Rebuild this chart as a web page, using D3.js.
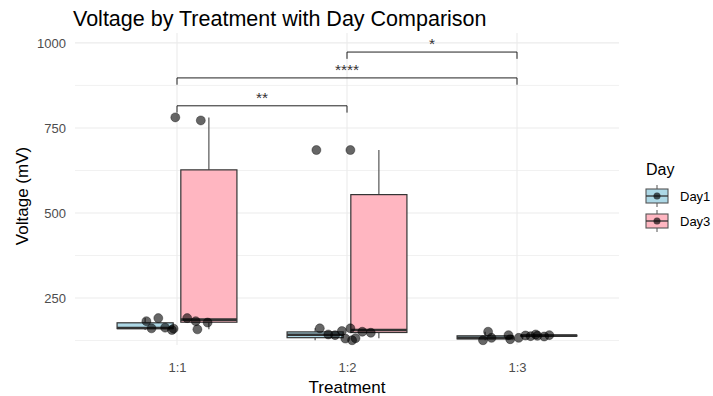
<!DOCTYPE html>
<html>
<head>
<meta charset="utf-8" />
<title>Voltage by Treatment</title>
<script src="https://cdn.jsdelivr.net/npm/d3@7/dist/d3.min.js"></script>
<style>
  body { margin: 0; background: #fff; }
  text { font-family: "Liberation Sans", Arial, sans-serif; }
</style>
</head>
<body>
<script>
// data
var treatments = ["1:1", "1:2", "1:3"];
var days = ["Day1", "Day3"];
var dayFill = ["#add8e6", "#ffb6c1"];

// voltage readings per treatment, per day
var day1Values = [
  [191, 182, 161, 156, 160, 163],
  [161, 143, 141, 153, 131, 126],
  [151, 126, 133, 141, 129, 133]
];
var day3Values = [
  [781, 772, 191, 182, 178, 158],
  [685, 685, 161, 151, 148, 132],
  [140, 138, 143, 139, 141, 137]
];
// jitter offsets (in category units) as seen in the picture
var day1Jitter = [
  [-0.11, -0.18, -0.15, -0.03, -0.02, -0.07],
  [-0.16, -0.11, -0.07, -0.03, -0.01, 0.03],
  [-0.17, -0.20, -0.15, -0.05, -0.04, 0.01]
];
var day3Jitter = [
  [-0.01, 0.14, 0.06, 0.11, 0.18, 0.12],
  [0.02, -0.18, 0.02, 0.09, 0.14, 0.05],
  [0.05, 0.08, 0.11, 0.12, 0.19, 0.16]
];

var yTicks = [250, 500, 750, 1000];
var yMinor = [125, 375, 625, 875];

var comparisons = [
  { from: "1:1", to: "1:2", y: 815, label: "**" },
  { from: "1:1", to: "1:3", y: 897, label: "****" },
  { from: "1:2", to: "1:3", y: 973, label: "*" }
];

var width = 713, height = 396;

var svg = d3.select("body").append("svg")
  .attr("width", width)
  .attr("height", height);

var x = d3.scalePoint().domain(treatments).range([177, 517]);
var step = x.step();
var y = d3.scaleLinear().domain([112, 1029]).range([345, 33]);

var panelLeft = x(treatments[0]) - 0.6 * step;
var panelRight = x(treatments[treatments.length - 1]) + 0.6 * step;

// grid
svg.append("g").selectAll("line").data(yMinor).enter().append("line")
  .attr("x1", panelLeft).attr("x2", panelRight)
  .attr("y1", function (d) { return y(d); }).attr("y2", function (d) { return y(d); })
  .attr("stroke", "#f1f1f1").attr("stroke-width", 1);
svg.append("g").selectAll("line").data(yTicks).enter().append("line")
  .attr("x1", panelLeft).attr("x2", panelRight)
  .attr("y1", function (d) { return y(d); }).attr("y2", function (d) { return y(d); })
  .attr("stroke", "#ebebeb").attr("stroke-width", 1.1);
svg.append("g").selectAll("line").data(treatments).enter().append("line")
  .attr("x1", function (d) { return x(d); }).attr("x2", function (d) { return x(d); })
  .attr("y1", y.range()[1]).attr("y2", y.range()[0])
  .attr("stroke", "#ebebeb").attr("stroke-width", 1.1);

// axes (labels only, theme_minimal style)
var yAxis = svg.append("g")
  .attr("transform", "translate(" + (panelLeft - 2) + ",0)")
  .call(d3.axisLeft(y).tickValues(yTicks).tickFormat(d3.format("d")).tickSize(0).tickPadding(7));
yAxis.select(".domain").remove();
yAxis.selectAll("text").attr("fill", "#4d4d4d").style("font-size", "13px")
  .style("font-family", "Liberation Sans, Arial, sans-serif");

var xAxis = svg.append("g")
  .attr("transform", "translate(0," + (y.range()[0] + 6) + ")")
  .call(d3.axisBottom(x).tickSize(0).tickPadding(12));
xAxis.select(".domain").remove();
xAxis.selectAll("text").attr("fill", "#4d4d4d").style("font-size", "13px")
  .style("font-family", "Liberation Sans, Arial, sans-serif");

// boxplot stats (type 7 quantiles, 1.5 IQR whiskers)
function stats(vals) {
  var s = vals.slice().sort(d3.ascending);
  var q1 = d3.quantileSorted(s, 0.25), med = d3.quantileSorted(s, 0.5), q3 = d3.quantileSorted(s, 0.75);
  var iqr = q3 - q1;
  var lo = d3.min(s.filter(function (v) { return v >= q1 - 1.5 * iqr; }));
  var hi = d3.max(s.filter(function (v) { return v <= q3 + 1.5 * iqr; }));
  return { q1: q1, med: med, q3: q3, lo: lo, hi: hi };
}

var boxes = [];
treatments.forEach(function (t, i) {
  boxes.push({ t: t, day: 0, s: stats(day1Values[i]) });
  boxes.push({ t: t, day: 1, s: stats(day3Values[i]) });
});

var dodge = 0.1875 * step;
var boxW = 0.33 * step;
function cx(d) { return x(d.t) + (d.day ? dodge : -dodge); }

var bx = svg.append("g").selectAll("g").data(boxes).enter().append("g");
bx.append("line")
  .attr("x1", cx).attr("x2", cx)
  .attr("y1", function (d) { return y(d.s.q3); })
  .attr("y2", function (d) { return y(d.s.hi); })
  .attr("stroke", "#555").attr("stroke-width", 1.2);
bx.append("line")
  .attr("x1", cx).attr("x2", cx)
  .attr("y1", function (d) { return y(d.s.q1); })
  .attr("y2", function (d) { return y(d.s.lo); })
  .attr("stroke", "#555").attr("stroke-width", 1.2);
bx.append("rect")
  .attr("x", function (d) { return cx(d) - boxW / 2; })
  .attr("width", boxW)
  .attr("y", function (d) { return y(d.s.q3); })
  .attr("height", function (d) { return Math.max(0.5, y(d.s.q1) - y(d.s.q3)); })
  .attr("fill", function (d) { return dayFill[d.day]; })
  .attr("stroke", "#333").attr("stroke-width", 1.2);
bx.append("line")
  .attr("x1", function (d) { return cx(d) - boxW / 2; })
  .attr("x2", function (d) { return cx(d) + boxW / 2; })
  .attr("y1", function (d) { return y(d.s.med); })
  .attr("y2", function (d) { return y(d.s.med); })
  .attr("stroke", "#333").attr("stroke-width", 2.6);

// jittered points
var pts = [];
treatments.forEach(function (t, i) {
  day1Values[i].forEach(function (v, j) { pts.push({ t: t, v: v, jx: day1Jitter[i][j] }); });
  day3Values[i].forEach(function (v, j) { pts.push({ t: t, v: v, jx: day3Jitter[i][j] }); });
});
svg.append("g").selectAll("circle").data(pts).enter().append("circle")
  .attr("cx", function (d) { return x(d.t) + d.jx * step; })
  .attr("cy", function (d) { return y(d.v); })
  .attr("r", 4.5)
  .attr("fill", "#000").attr("fill-opacity", 0.6)
  .attr("stroke", "#000").attr("stroke-opacity", 0.6).attr("stroke-width", 0.6);

// significance brackets
var tip = 20;
var br = svg.append("g").selectAll("g").data(comparisons).enter().append("g");
br.append("path")
  .attr("d", function (d) {
    return "M" + x(d.from) + "," + y(d.y - tip) + "V" + y(d.y) + "H" + x(d.to) + "V" + y(d.y - tip);
  })
  .attr("fill", "none").attr("stroke", "#222").attr("stroke-width", 1);
br.append("text")
  .attr("x", function (d) { return (x(d.from) + x(d.to)) / 2; })
  .attr("y", function (d) { return y(d.y) - 3; })
  .attr("text-anchor", "middle")
  .style("font-size", "15.5px")
  .attr("fill", "#333")
  .text(function (d) { return d.label; });

// titles
svg.append("text").attr("x", 73).attr("y", 26)
  .style("font-size", "21.5px").attr("fill", "#000")
  .text("Voltage by Treatment with Day Comparison");
svg.append("text").attr("x", (panelLeft + panelRight) / 2).attr("y", 393)
  .attr("text-anchor", "middle").style("font-size", "17px").attr("fill", "#000")
  .text("Treatment");
svg.append("text")
  .attr("transform", "translate(28," + ((y.range()[0] + y.range()[1]) / 2 + 7) + ") rotate(-90)")
  .attr("text-anchor", "middle").style("font-size", "17px").attr("fill", "#000")
  .text("Voltage (mV)");

// legend
var legend = svg.append("g").attr("transform", "translate(646,0)");
legend.append("text").attr("x", 0).attr("y", 175)
  .style("font-size", "16px").attr("fill", "#000").text("Day");
var key = legend.selectAll(".key").data(days).enter().append("g")
  .attr("class", "key")
  .attr("transform", function (d, i) { return "translate(0," + (196 + i * 25) + ")"; });
key.append("line").attr("x1", 11).attr("x2", 11).attr("y1", -11).attr("y2", 11)
  .attr("stroke", "#555").attr("stroke-width", 1);
key.append("rect").attr("x", 0).attr("y", -7).attr("width", 22).attr("height", 14)
  .attr("fill", function (d, i) { return dayFill[i]; })
  .attr("stroke", "#555").attr("stroke-width", 1.1);
key.append("line").attr("x1", 0).attr("x2", 22).attr("y1", 0).attr("y2", 0)
  .attr("stroke", "#333").attr("stroke-width", 1.3);
key.append("circle").attr("cx", 11).attr("cy", 0).attr("r", 3.5)
  .attr("fill", "#000").attr("fill-opacity", 0.65);
key.append("text").attr("x", 34).attr("y", 5)
  .style("font-size", "13px").attr("fill", "#000")
  .text(function (d) { return d; });
</script>
</body>
</html>
